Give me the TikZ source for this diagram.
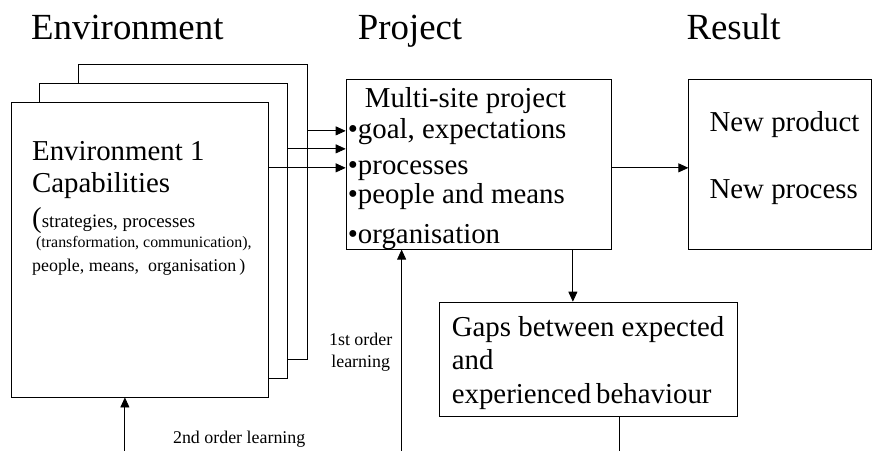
\documentclass[tikz,border=0pt]{standalone}
\usepackage{fontspec}
\setmainfont{Liberation Serif}
\usetikzlibrary{arrows.meta, positioning}

\begin{document}
\begin{tikzpicture}[x=1bp, y=-1bp,
  frame/.style={draw, line width=0.8pt, fill=white, anchor=north west, inner sep=0pt},
  arr/.style={line width=0.8pt, -{Triangle[length=10bp, width=9bp]}},
  conn/.style={line width=0.8pt},
  title/.style={anchor=base west, inner sep=0pt, font=\fontsize{37}{41}\selectfont},
  txt/.style={anchor=base west, inner sep=0pt, font=\fontsize{29}{33}\selectfont},
  lbl/.style={anchor=base west, inner sep=0pt, font=\fontsize{18}{21}\selectfont}
]
  \path[fill=white] (0,0) rectangle (872,451);

  % column titles
  \node[title] (tenv) at (31,40) {Environment};
  \node[title] (tproj) at (358,40) {Project};
  \node[title] (tres) at (687,40) {Result};

  % stacked environments
  \node[frame, minimum width=229bp, minimum height=295bp] (env3) at (78,64) {};
  \node[frame, minimum width=248bp, minimum height=295bp] (env2) at (39,83) {};
  \node[frame, minimum width=257bp, minimum height=295bp] (env1) at (11,102) {};
  \node[txt] (e1a) at (32,161) {Environment 1};
  \node[txt] (e1b) at (32,193) {Capabilities};
  \node[anchor=base west, inner sep=0pt] (e1c) at (32,228)
    {\fontsize{29}{33}\selectfont(\fontsize{19}{22}\selectfont strategies, processes};
  \node[anchor=base west, inner sep=0pt, font=\fontsize{16}{19}\selectfont] (e1d) at (36,248)
    {(transformation, communication),};
  \node[lbl] (e1e) at (32,272) {people, means,\ \ organisation\,)};

  % project
  \node[frame, minimum width=266bp, minimum height=170bp] (proj) at (346,79) {};
  \node[txt] (p1) at (365,108) {Multi-site project};
  \node[txt] (p2) at (348,139) {•goal, expectations};
  \node[txt] (p3) at (348,175) {•processes};
  \node[txt] (p4) at (348,204) {•people and means};
  \node[txt] (p5) at (348,244) {•organisation};

  % result
  \node[frame, minimum width=183bp, minimum height=170bp] (res) at (689,79) {};
  \node[txt] (r1) at (710,132) {New product};
  \node[txt] (r2) at (710,199) {New process};

  % gaps
  \node[frame, minimum width=299bp, minimum height=114bp] (gaps) at (439,302) {};
  \node[txt] (g1) at (452,337) {Gaps between expected};
  \node[txt] (g2) at (452,370) {and};
  \node[txt] (g3) at (452,404) {experienced\hspace{0.17em}behaviour};

  % learning labels
  \node[lbl, anchor=base] (l1a) at (361,346) {1st order};
  \node[lbl, anchor=base] (l1b) at (361,368) {learning};
  \node[lbl] (l2) at (173,444) {2nd order learning};

  % connectors
  \coordinate (o3) at ([yshift=-67bp]env3.north east);
  \coordinate (o2) at ([yshift=-66bp]env2.north east);
  \coordinate (o1) at ([yshift=-66bp]env1.north east);
  \draw[arr] (o3) -- (o3 -| proj.west);
  \draw[arr] (o2) -- (o2 -| proj.west);
  \draw[arr] (o1) -- (o1 -| proj.west);
  \draw[arr] (o1 -| proj.east) -- (o1 -| res.west);
  \draw[arr] ([xshift=94bp]proj.south) -- ([xshift=94bp]proj.south |- gaps.north);
  \coordinate (gapsout) at (620,451);
  \draw[conn] (gapsout |- gaps.south) -- (gapsout);
  \coordinate (loop1) at (402,451);
  \draw[arr] (loop1) -- (loop1 |- proj.south);
  \coordinate (loop2) at (125,451);
  \draw[arr] (loop2) -- (loop2 |- env1.south);
\end{tikzpicture}
\end{document}
